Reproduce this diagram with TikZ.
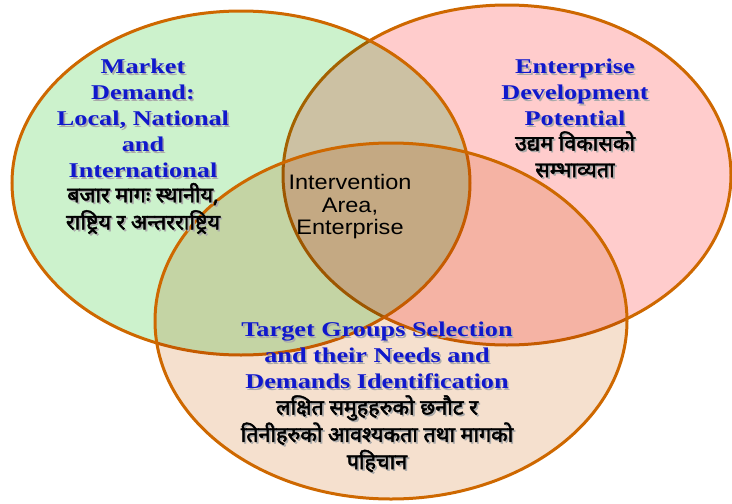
\documentclass[tikz,border=0pt]{standalone}
\usepackage{fontspec}
\usepackage{xcolor}
\setmainfont{Liberation Serif}
\newfontfamily\engfont[FakeStretch=1.25]{Liberation Serif}
\newfontfamily\midfont[FakeStretch=1.12]{Liberation Sans}
\newfontfamily\nepfont[Script=Devanagari,FakeBold=2.2]{Noto Sans}
\definecolor{ringorange}{RGB}{206,104,0}
\definecolor{mktgreen}{RGB}{204,242,204}
\definecolor{entpink}{RGB}{255,204,204}
\definecolor{tgtpeach}{RGB}{245,224,206}
\definecolor{titleblue}{RGB}{16,24,204}
\definecolor{shadowgrey}{RGB}{170,170,170}
% text with a soft grey drop shadow
\newcommand\shd[1]{\leavevmode\rlap{\kern1.6pt\raisebox{-1.6pt}{\color{shadowgrey}#1}}#1}
\newcommand\blk[1]{\shd{\begin{tabular}{@{}c@{}}#1\end{tabular}}}

\begin{document}
\begin{tikzpicture}[x=1pt,y=-1pt,
    ring/.style={draw=ringorange,line width=3pt},
    tint/.style={blend mode=multiply},
    entxt/.style={text=titleblue,font=\engfont\bfseries\fontsize{21}{26}\selectfont,inner sep=0pt},
    neptxt/.style={text=black,font=\nepfont\fontsize{21.5}{26.5}\selectfont,inner sep=0pt},
    midtxt/.style={text=black,font=\midfont\fontsize{21}{22.5}\selectfont,align=center,inner sep=0pt}]
  \useasboundingbox (0,0) rectangle (732,504);

  % the three circles, each tinting what lies under it
  \fill[tint,entpink] (507,175) ellipse [x radius=224, y radius=170];
  \draw[ring] (507,175) ellipse [x radius=224, y radius=170];
  \fill[tint,mktgreen] (241,183) ellipse [x radius=229, y radius=172];
  \draw[ring] (241,183) ellipse [x radius=229, y radius=172];
  \fill[tint,tgtpeach] (391,321) ellipse [x radius=236, y radius=178];
  \draw[ring] (391,321) ellipse [x radius=236, y radius=178];

  % labels
  \node[entxt] (market) at (143,121) {\blk{Market\\Demand:\\Local, National\\and\\International}};
  \node[neptxt] (marketnp) at (143,211) {\blk{बजार मागः स्थानीय,\\राष्ट्रिय र अन्तरराष्ट्रिय}};

  \node[entxt] (enterprise) at (575,95) {\blk{Enterprise\\Development\\Potential}};
  \node[neptxt] (enterprisenp) at (575,159) {\blk{उद्यम विकासको\\सम्भाव्यता}};

  \node[entxt] (target) at (377,358) {\blk{Target Groups Selection\\and their Needs and\\Demands Identification}};
  \node[neptxt] (targetnp) at (377,437) {\blk{लक्षित समुहहरुको छनौट र\\तिनीहरुको आवश्यकता तथा मागको\\पहिचान}};

  \node[midtxt] (centre) at (350,207) {Intervention\\Area,\\Enterprise};
\end{tikzpicture}
\end{document}
